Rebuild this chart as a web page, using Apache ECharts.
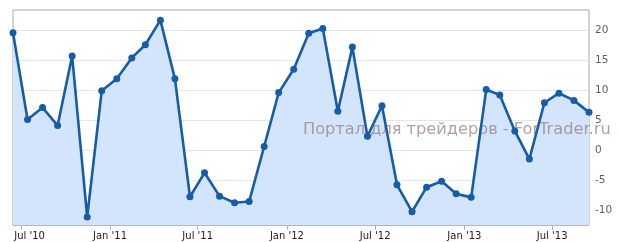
<!DOCTYPE html>
<html>
<head>
<meta charset="utf-8">
<script src="https://cdn.jsdelivr.net/npm/echarts@6/dist/echarts.min.js"></script>
<style>html,body{margin:0;padding:0;background:#fff}#c{width:619px;height:242px}</style>
</head>
<body>
<div id="c"></div>
<script>
// Monthly points (mid-month), Jun 2010 .. Sep 2013
const months = [
  '2010-06','2010-07','2010-08','2010-09','2010-10','2010-11','2010-12',
  '2011-01','2011-02','2011-03','2011-04','2011-05','2011-06','2011-07','2011-08','2011-09','2011-10','2011-11','2011-12',
  '2012-01','2012-02','2012-03','2012-04','2012-05','2012-06','2012-07','2012-08','2012-09','2012-10','2012-11','2012-12',
  '2013-01','2013-02','2013-03','2013-04','2013-05','2013-06','2013-07','2013-08','2013-09'
];
const values = [
  19.6, 5.1, 7.1, 4.1, 15.7, -11.2, 9.9,
  11.9, 15.4, 17.6, 21.7, 11.9, -7.8, -3.8, -7.7, -8.8, -8.6, 0.6, 9.6,
  13.5, 19.5, 20.3, 6.5, 17.2, 2.3, 7.4, -5.8, -10.3, -6.2, -5.2, -7.3,
  -7.9, 10.1, 9.2, 3.2, -1.5, 7.9, 9.5, 8.3, 6.3
];
const tickDates = ['2010-07-01','2011-01-01','2011-07-01','2012-01-01','2012-07-01','2013-01-01','2013-07-01'];
const tickLabels = ["Jul '10","Jan '11","Jul '11","Jan '12","Jul '12","Jan '13","Jul '13"];
const yTicks = [-10, -5, 0, 5, 10, 15, 20];
const watermark = 'Портал для трейдеров - ForTrader.ru';

function ts(s){ const p=s.split('-').map(Number); return Date.UTC(p[0], p[1]-1, p[2]||15); }
const points = months.map((m,i)=>[ts(m), values[i]]);
const tickTs = tickDates.map(ts);
const labelMap = {}; tickTs.forEach((t,i)=>{labelMap[t]=tickLabels[i];});

const chart = echarts.init(document.getElementById('c'), null, {renderer:'canvas'});
chart.setOption({
  animation:false,
  grid:{left:13, right:30, top:10, height:215.5, show:true, borderColor:'#a8a8a8', borderWidth:1, backgroundColor:'transparent'},
  xAxis:{
    type:'value', min:points[0][0], max:points[points.length-1][0],
    axisLine:{show:false, onZero:false},
    axisTick:{show:true, customValues:tickTs, length:4, lineStyle:{color:'#a8a8a8'}},
    axisLabel:{customValues:tickTs,
      formatter:v=>{const t=labelMap[v]||''; return v===tickTs[0] ? '{first|'+t+'}' : t;},
      rich:{first:{padding:[0,0,0,17.6], color:'#222', fontSize:10, fontFamily:'DejaVu Sans'}},
      color:'#222', fontSize:10, fontFamily:'DejaVu Sans', margin:6},
    splitLine:{show:false}
  },
  yAxis:{
    type:'value', position:'right', min:-12.6, max:23.4,
    axisLine:{show:false},
    axisTick:{show:false, customValues:yTicks},
    axisLabel:{customValues:yTicks, color:'#606060', fontSize:10.5, fontFamily:'DejaVu Sans', margin:6},
    splitLine:{show:true, lineStyle:{color:'#e6e6e6', width:1}}
  },
  graphic:[{
    type:'text', left:303, top:122, z:5,
    style:{text:watermark, fill:'rgba(150,125,122,0.72)', font:'16.2px "DejaVu Sans"'}
  }],
  series:[
    {type:'line', data:points, z:1, symbol:'none', lineStyle:{width:0}, areaStyle:{color:'#d2e5fc', opacity:1, origin:'start'}, silent:true},
    {type:'line', data:points, z:10, symbol:'circle', symbolSize:7, itemStyle:{color:'#165ca6'}, lineStyle:{color:'#165ca6', width:2.6}}
  ]
});
</script>
</body>
</html>
